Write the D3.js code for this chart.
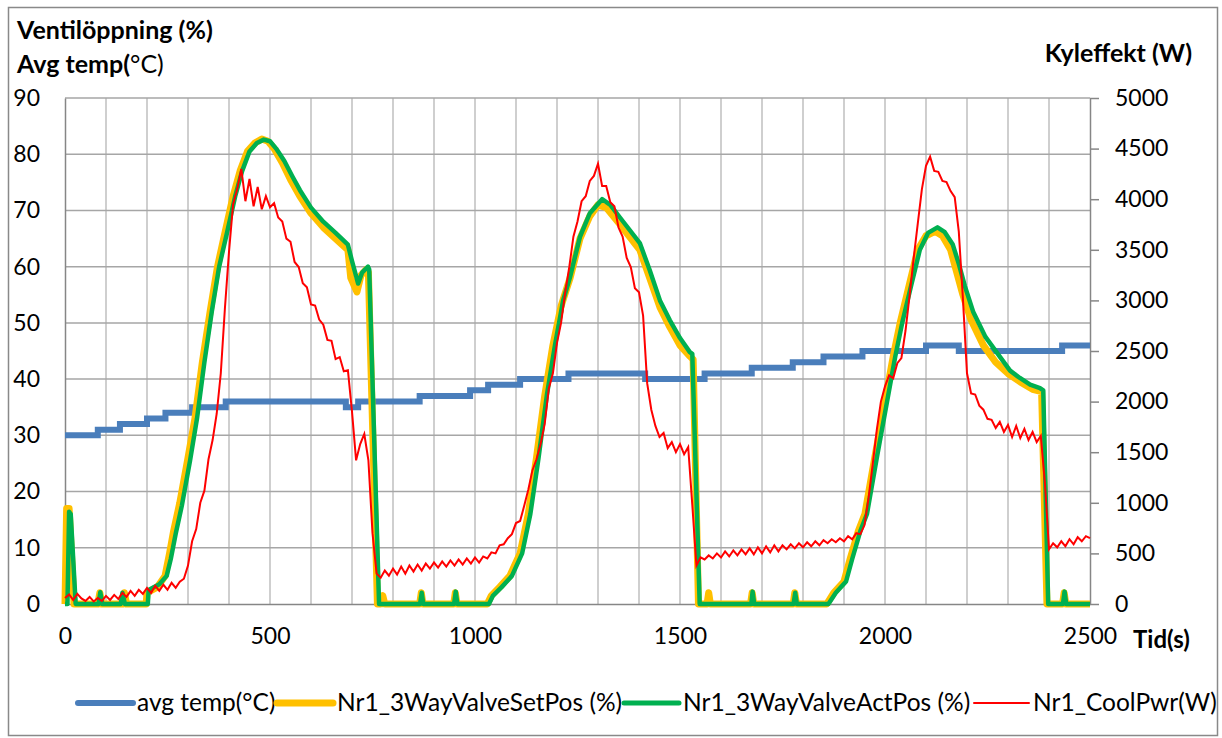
<!DOCTYPE html>
<html>
<head>
<meta charset="utf-8">
<script src="https://cdn.jsdelivr.net/npm/d3@7"></script>
<style>
  body { margin:0; background:#fff; }
  svg text { font-family: Lato, "Open Sans", sans-serif; fill:#000; }
</style>
</head>
<body>
<svg id="chart" width="1222" height="738"></svg>
<script>
// x ticks and axis ticks
var timeTicks = [0, 500, 1000, 1500, 2000, 2500];
var leftTicks = [0, 10, 20, 30, 40, 50, 60, 70, 80, 90];
var rightTicks = [0, 500, 1000, 1500, 2000, 2500, 3000, 3500, 4000, 4500, 5000];

// avg temp, step values (time s, degC)
var tempTime = [0, 80, 134, 200, 245, 310, 392, 685, 715, 865, 988, 1032, 1110, 1228, 1415, 1560, 1675, 1775, 1850, 1945, 2100, 2180, 2432, 2500];
var tempVal  = [30, 31, 32, 33, 34, 35, 36, 35, 36, 37, 38, 39, 40, 41, 40, 41, 42, 43, 44, 45, 46, 45, 46, 46];

// Nr1_3WayValveSetPos (%)
var setTime = [0,4,10,22,80,85,90,140,145,150,198,200,225,244,255,265,280,300,317,335,354,372,390,410,427,445,463,480,495,510,530,550,573,600,630,660,690,697,712,722,735,740,762,770,775,780,
  865,869,873,948,952,956,1030,1040,1060,1085,1110,1130,1150,1170,1190,1210,1232,1256,1280,1300,1320,1354,1402,1426,1451,1475,1500,1525,1532,1545,
  1566,1570,1574,1672,1676,1680,1776,1780,1784,1858,1875,1900,1915,1935,1951,1975,2000,2020,2037,2060,2080,2100,2122,2140,2160,2175,2190,2210,2240,2270,2300,2330,2360,2382,2395,2433,2437,2441,2500];
var setVal  = [0,17,17,0,0,2,0,0,2,0,0,2,3,5,9,13,18,26,33,43,52,60,66,72.5,77,80.5,82,82.7,82.3,81,78.5,75.5,72.5,69.5,67,65,63,58,55.5,58.5,59.5,59,0,0,1.5,0,
  0,2,0,0,2,0,0,1.5,3,5,9,16,26,37,46,53,58,65,69,71,70.5,67.5,63,58,52.8,49.3,46,44,43.5,0,
  0,2,0,0,2,0,0,2,0,0,2,4,8,13,16,26,36,44,50,57,63,65.5,66.3,65.5,63,59,55,50.5,46,43,41,39.5,38.2,37.8,0,0,2,0,0];

// Nr1_3WayValveActPos (%)
var actTime = [0,6,10,14,26,82,86,91,136,140,146,202,204,230,248,258,270,285,305,322,340,358,376,395,415,432,450,468,485,500,515,535,555,573,600,630,660,690,700,715,725,739,742,766,
  866,870,874,949,953,957,1034,1044,1065,1090,1115,1135,1155,1175,1195,1215,1232,1256,1280,1310,1330,1354,1402,1426,1451,1475,1500,1524,1530,1548,
  1674,1677,1681,1777,1781,1785,1862,1880,1905,1920,1940,1956,1980,2005,2025,2042,2065,2085,2105,2128,2145,2165,2180,2195,2215,2245,2280,2305,2329,2354,2378,2386,2398,2434,2438,2442,2500];
var actVal  = [0,0,16.4,16,0,0,2.1,0,0,2,0,0,2.5,3.5,5,8,12.5,17.5,25.5,33,43,52,60,66,72.5,77,80.5,82,82.6,82.3,81,78.8,76,73.6,70.5,68,66,63.9,61,57,59,60,59.5,0,
  0,2,0,0,2.2,0,0,1.5,3,5,9,16,26,37,46,54,58.2,65.3,69.5,72,71,68.7,64.2,59.4,54,50.5,47.3,44.8,44.5,0,
  0,2.2,0,0,2,0,0,2,4,8,13,16,26,36,44,50,57,63,66,67,66.2,64,60.5,56.5,52,47.5,44,41.5,40.2,39,38.4,38,0,0,2.2,0,0];

// Nr1_CoolPwr (W), one reading every 10 s
var powerTime = d3.range(0, 2501, 10);
var powerVal = [
  60,95,40,100,55,30,70,25,60,30,
  80,40,90,50,110,70,130,80,140,100,
  160,110,180,130,190,140,210,160,220,250,
  380,620,740,1000,1120,1430,1620,1880,2280,2920,
  3480,3950,4100,4300,3980,4200,3930,4120,3900,4030,
  3920,3960,3820,3780,3610,3580,3380,3330,3170,3130,
  2960,2950,2810,2760,2610,2600,2420,2440,2300,2310,
  1900,1420,1580,1680,1420,700,300,260,330,280,
  350,290,370,300,380,320,390,330,400,350,
  410,360,420,370,430,380,440,390,450,400,
  460,410,470,450,510,500,580,590,650,690,
  800,820,970,1130,1320,1430,1580,1780,2130,2280,
  2580,2780,3080,3330,3630,3780,3980,4030,4180,4230,
  4350,4130,4130,3970,3930,3720,3630,3420,3330,3120,
  3080,2850,2180,1920,1760,1650,1690,1540,1600,1500,
  1580,1480,1550,980,380,460,440,480,450,500,
  460,520,470,530,480,540,490,550,490,560,
  500,570,510,580,520,580,540,590,550,600,
  560,610,570,620,580,630,600,640,610,650,
  620,670,640,700,690,780,1050,1380,1720,2000,
  2150,2260,2230,2380,2430,2700,3050,3420,3760,4100,
  4330,4420,4280,4270,4180,4170,4080,4020,3680,3020,
  2280,2080,2070,1960,1920,1830,1820,1740,1800,1700,
  1770,1650,1760,1640,1730,1620,1700,1600,1660,1200,
  540,600,560,620,570,640,590,660,620,670,
  650
];

var svg = d3.select("#chart");

var x = d3.scaleLinear().domain([0, 2500]).range([65, 1090]);
var yL = d3.scaleLinear().domain([0, 90]).range([604, 98]);
var yR = d3.scaleLinear().domain([0, 5000]).range([604, 98]);

// outer frame
svg.append("rect")
  .attr("x", 8.5).attr("y", 7.5)
  .attr("width", 1209).attr("height", 728)
  .attr("fill", "#fff")
  .attr("stroke", "#898989")
  .attr("stroke-width", 1.5);

// vertical grid every 100 s
svg.append("g")
  .selectAll("line")
  .data(d3.range(100, 2500, 100))
  .enter().append("line")
  .attr("x1", function(d){ return x(d); })
  .attr("x2", function(d){ return x(d); })
  .attr("y1", yL(90)).attr("y2", yL(0))
  .attr("stroke", "#bfbfbf")
  .attr("stroke-width", 1.5);

// horizontal grid from left axis
svg.append("g")
  .selectAll("line")
  .data(leftTicks.slice(1))
  .enter().append("line")
  .attr("x1", x(0)).attr("x2", x(2500))
  .attr("y1", function(d){ return yL(d); })
  .attr("y2", function(d){ return yL(d); })
  .attr("stroke", "#a6a6a6")
  .attr("stroke-width", 1.5);

var plain = d3.format("d");

// left axis
var leftAxis = svg.append("g")
  .attr("transform", "translate(" + x(0) + ",0)")
  .call(d3.axisLeft(yL).tickValues(leftTicks).tickFormat(plain).tickSize(0).tickPadding(25));
leftAxis.select(".domain").attr("stroke", "#868686").attr("stroke-width", 1.5);
leftAxis.selectAll("text").style("font-size", "23px").attr("fill", "#000");

// right axis
var rightAxis = svg.append("g")
  .attr("transform", "translate(" + x(2500) + ",0)")
  .call(d3.axisRight(yR).tickValues(rightTicks).tickFormat(plain).tickSize(9).tickSizeOuter(0).tickPadding(16));
rightAxis.select(".domain").attr("stroke", "#868686").attr("stroke-width", 1.5);
rightAxis.selectAll(".tick line").attr("stroke", "#868686").attr("stroke-width", 1.5);
rightAxis.selectAll("text").style("font-size", "23px").attr("fill", "#000");

// bottom axis
var bottomAxis = svg.append("g")
  .attr("transform", "translate(0," + yL(0) + ")")
  .call(d3.axisBottom(x).tickValues(timeTicks).tickFormat(plain).tickSize(0).tickSizeOuter(0).tickPadding(24));
bottomAxis.select(".domain").attr("stroke", "#868686").attr("stroke-width", 1.5);
bottomAxis.selectAll("text").style("font-size", "23px").attr("fill", "#000");

// series
var tempLine = d3.line()
  .x(function(d){ return x(d[0]); })
  .y(function(d){ return yL(d[1]); })
  .curve(d3.curveStepAfter);

var valveLine = d3.line()
  .x(function(d){ return x(d[0]); })
  .y(function(d){ return yL(d[1]); });

var powerLine = d3.line()
  .x(function(d){ return x(d[0]); })
  .y(function(d){ return yR(d[1]); });

svg.append("path")
  .datum(d3.zip(tempTime, tempVal))
  .attr("d", tempLine)
  .attr("fill", "none")
  .attr("stroke", "#4a7ebb")
  .attr("stroke-width", 6);

svg.append("path")
  .datum(d3.zip(setTime, setVal))
  .attr("d", valveLine)
  .attr("fill", "none")
  .attr("stroke", "#ffc000")
  .attr("stroke-width", 7)
  .attr("stroke-linejoin", "round");

svg.append("path")
  .datum(d3.zip(actTime, actVal))
  .attr("d", valveLine)
  .attr("fill", "none")
  .attr("stroke", "#00b050")
  .attr("stroke-width", 4.5)
  .attr("stroke-linejoin", "round");

svg.append("path")
  .datum(d3.zip(powerTime, powerVal))
  .attr("d", powerLine)
  .attr("fill", "none")
  .attr("stroke", "#ff0000")
  .attr("stroke-width", 2);

// axis titles
svg.append("text").attr("x", 17).attr("y", 39)
  .style("font-size", "25px").style("font-weight", "bold")
  .text("Ventilöppning (%)");
var t2 = svg.append("text").attr("x", 17).attr("y", 73).style("font-size", "25px");
t2.append("tspan").style("font-weight", "bold").text("Avg temp(");
t2.append("tspan").text("°C)");

svg.append("text").attr("x", 1192).attr("y", 62)
  .attr("text-anchor", "end")
  .style("font-size", "25px").style("font-weight", "bold")
  .text("Kyleffekt (W)");

svg.append("text").attr("x", 1133).attr("y", 648)
  .style("font-size", "24px").style("font-weight", "bold")
  .text("Tid(s)");

// legend
var legendItems = [
  {label: "avg temp(°C)", color: "#4a7ebb", width: 6, x1: 78, x2: 133, tx: 137},
  {label: "Nr1_3WayValveSetPos (%)", color: "#ffc000", width: 7, x1: 277, x2: 333, tx: 337},
  {label: "Nr1_3WayValveActPos (%)", color: "#00b050", width: 5, x1: 624, x2: 679, tx: 683},
  {label: "Nr1_CoolPwr(W)", color: "#ff0000", width: 2, x1: 974, x2: 1029, tx: 1033}
];
var legend = svg.append("g");
legendItems.forEach(function(d){
  legend.append("line")
    .attr("x1", d.x1).attr("x2", d.x2)
    .attr("y1", 703).attr("y2", 703)
    .attr("stroke", d.color)
    .attr("stroke-width", d.width)
    .attr("stroke-linecap", "round");
  legend.append("text")
    .attr("x", d.tx).attr("y", 711)
    .style("font-size", "24.5px")
    .text(d.label);
});
</script>
</body>
</html>
